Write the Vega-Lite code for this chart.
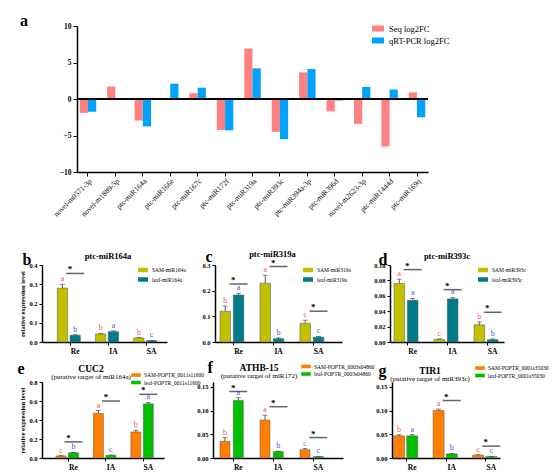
{
  "$schema": "https://vega.github.io/schema/vega-lite/v6.json",
  "padding": {"left": 17, "top": 13, "right": 0, "bottom": 0},
  "datasets": {
    "mirna": [
      {"mir": "novel-m0571-3p", "series": "Seq log2FC", "v": -1.9},
      {"mir": "novel-m0571-3p", "series": "qRT-PCR log2FC", "v": -1.75},
      {"mir": "novel-m1889-5p", "series": "Seq log2FC", "v": 1.7},
      {"mir": "novel-m1889-5p", "series": "qRT-PCR log2FC", "v": 0.05},
      {"mir": "ptc-miR164a", "series": "Seq log2FC", "v": -2.95},
      {"mir": "ptc-miR164a", "series": "qRT-PCR log2FC", "v": -3.75},
      {"mir": "ptc-miR166e", "series": "Seq log2FC", "v": 0.1},
      {"mir": "ptc-miR166e", "series": "qRT-PCR log2FC", "v": 2.1},
      {"mir": "ptc-miR167c", "series": "Seq log2FC", "v": 0.8},
      {"mir": "ptc-miR167c", "series": "qRT-PCR log2FC", "v": 1.55},
      {"mir": "ptc-miR172f", "series": "Seq log2FC", "v": -4.25},
      {"mir": "ptc-miR172f", "series": "qRT-PCR log2FC", "v": -4.3},
      {"mir": "ptc-miR319a", "series": "Seq log2FC", "v": 6.9},
      {"mir": "ptc-miR319a", "series": "qRT-PCR log2FC", "v": 4.2},
      {"mir": "ptc-miR393c", "series": "Seq log2FC", "v": -4.5},
      {"mir": "ptc-miR393c", "series": "qRT-PCR log2FC", "v": -5.5},
      {"mir": "ptc-miR394a-3p", "series": "Seq log2FC", "v": 3.65},
      {"mir": "ptc-miR394a-3p", "series": "qRT-PCR log2FC", "v": 4.1},
      {"mir": "ptc-miR396d", "series": "Seq log2FC", "v": -1.7},
      {"mir": "ptc-miR396d", "series": "qRT-PCR log2FC", "v": -0.2},
      {"mir": "novel-m2623-3p", "series": "Seq log2FC", "v": -3.4},
      {"mir": "novel-m2623-3p", "series": "qRT-PCR log2FC", "v": 1.65},
      {"mir": "ptc-miR1444d", "series": "Seq log2FC", "v": -6.5},
      {"mir": "ptc-miR1444d", "series": "qRT-PCR log2FC", "v": 1.3},
      {"mir": "ptc-miR169q", "series": "Seq log2FC", "v": 0.9},
      {"mir": "ptc-miR169q", "series": "qRT-PCR log2FC", "v": -2.5}
    ],
    "expr": [
      {"panel": "b", "slot": "Re-SAM", "role": "SAM", "grp": "SAM-miR164a", "v": 0.28, "up": 0.3, "letter": "a"},
      {"panel": "b", "slot": "Re-leaf", "role": "leaf", "grp": "leaf-miR164a", "v": 0.035, "up": 0.038, "letter": "b"},
      {"panel": "b", "slot": "IA-SAM", "role": "SAM", "grp": "SAM-miR164a", "v": 0.042, "up": 0.045, "letter": "b"},
      {"panel": "b", "slot": "IA-leaf", "role": "leaf", "grp": "leaf-miR164a", "v": 0.054, "up": 0.058, "letter": "a"},
      {"panel": "b", "slot": "SA-SAM", "role": "SAM", "grp": "SAM-miR164a", "v": 0.021, "up": 0.023, "letter": "b"},
      {"panel": "b", "slot": "SA-leaf", "role": "leaf", "grp": "leaf-miR164a", "v": 0.007, "up": 0.008, "letter": "c"},
      {"panel": "c", "slot": "Re-SAM", "role": "SAM", "grp": "SAM-miR319a", "v": 0.12, "up": 0.14, "letter": "b"},
      {"panel": "c", "slot": "Re-leaf", "role": "leaf", "grp": "leaf-miR319a", "v": 0.183, "up": 0.19, "letter": "a"},
      {"panel": "c", "slot": "IA-SAM", "role": "SAM", "grp": "SAM-miR319a", "v": 0.229, "up": 0.26, "letter": "a"},
      {"panel": "c", "slot": "IA-leaf", "role": "leaf", "grp": "leaf-miR319a", "v": 0.013, "up": 0.016, "letter": "b"},
      {"panel": "c", "slot": "SA-SAM", "role": "SAM", "grp": "SAM-miR319a", "v": 0.073, "up": 0.085, "letter": "c"},
      {"panel": "c", "slot": "SA-leaf", "role": "leaf", "grp": "leaf-miR319a", "v": 0.019, "up": 0.022, "letter": "c"},
      {"panel": "d", "slot": "Re-SAM", "role": "SAM", "grp": "SAM-miR393c", "v": 0.076, "up": 0.0815, "letter": "a"},
      {"panel": "d", "slot": "Re-leaf", "role": "leaf", "grp": "leaf-miR393c", "v": 0.054, "up": 0.0565, "letter": "a"},
      {"panel": "d", "slot": "IA-SAM", "role": "SAM", "grp": "SAM-miR393c", "v": 0.0034, "up": 0.004, "letter": "c"},
      {"panel": "d", "slot": "IA-leaf", "role": "leaf", "grp": "leaf-miR393c", "v": 0.056, "up": 0.058, "letter": "a"},
      {"panel": "d", "slot": "SA-SAM", "role": "SAM", "grp": "SAM-miR393c", "v": 0.0223, "up": 0.026, "letter": "b"},
      {"panel": "d", "slot": "SA-leaf", "role": "leaf", "grp": "leaf-miR393c", "v": 0.003, "up": 0.004, "letter": "b"},
      {"panel": "e", "slot": "Re-SAM", "role": "SAM", "grp": "SAM-POPTR_0011s11600", "v": 0.022, "up": 0.024, "letter": "c"},
      {"panel": "e", "slot": "Re-leaf", "role": "leaf", "grp": "leaf-POPTR_0011s11600", "v": 0.055, "up": 0.058, "letter": "b"},
      {"panel": "e", "slot": "IA-SAM", "role": "SAM", "grp": "SAM-POPTR_0011s11600", "v": 0.47, "up": 0.5, "letter": "a"},
      {"panel": "e", "slot": "IA-leaf", "role": "leaf", "grp": "leaf-POPTR_0011s11600", "v": 0.028, "up": 0.03, "letter": "c"},
      {"panel": "e", "slot": "SA-SAM", "role": "SAM", "grp": "SAM-POPTR_0011s11600", "v": 0.274, "up": 0.29, "letter": "b"},
      {"panel": "e", "slot": "SA-leaf", "role": "leaf", "grp": "leaf-POPTR_0011s11600", "v": 0.57, "up": 0.585, "letter": "a"},
      {"panel": "f", "slot": "Re-SAM", "role": "SAM", "grp": "SAM-POPTR_0003s04860", "v": 0.035, "up": 0.043, "letter": "b"},
      {"panel": "f", "slot": "Re-leaf", "role": "leaf", "grp": "leaf-POPTR_0003s04860", "v": 0.121, "up": 0.127, "letter": "a"},
      {"panel": "f", "slot": "IA-SAM", "role": "SAM", "grp": "SAM-POPTR_0003s04860", "v": 0.08, "up": 0.09, "letter": "a"},
      {"panel": "f", "slot": "IA-leaf", "role": "leaf", "grp": "leaf-POPTR_0003s04860", "v": 0.0136, "up": 0.0145, "letter": "b"},
      {"panel": "f", "slot": "SA-SAM", "role": "SAM", "grp": "SAM-POPTR_0003s04860", "v": 0.0175, "up": 0.02, "letter": "c"},
      {"panel": "f", "slot": "SA-leaf", "role": "leaf", "grp": "leaf-POPTR_0003s04860", "v": 0.003, "up": 0.0035, "letter": "c"},
      {"panel": "g", "slot": "Re-SAM", "role": "SAM", "grp": "SAM-POPTR_0001s35030", "v": 0.0467, "up": 0.049, "letter": "b"},
      {"panel": "g", "slot": "Re-leaf", "role": "leaf", "grp": "leaf-POPTR_0001s35030", "v": 0.0467, "up": 0.049, "letter": "a"},
      {"panel": "g", "slot": "IA-SAM", "role": "SAM", "grp": "SAM-POPTR_0001s35030", "v": 0.1, "up": 0.103, "letter": "a"},
      {"panel": "g", "slot": "IA-leaf", "role": "leaf", "grp": "leaf-POPTR_0001s35030", "v": 0.0087, "up": 0.0095, "letter": "b"},
      {"panel": "g", "slot": "SA-SAM", "role": "SAM", "grp": "SAM-POPTR_0001s35030", "v": 0.006, "up": 0.007, "letter": "c"},
      {"panel": "g", "slot": "SA-leaf", "role": "leaf", "grp": "leaf-POPTR_0001s35030", "v": 0.003, "up": 0.0035, "letter": "c"}
    ],
    "sig": [
      {"panel": "b", "slot": "Re-leaf", "y": 0.356},
      {"panel": "c", "slot": "Re-leaf", "y": 0.226},
      {"panel": "c", "slot": "IA-leaf", "y": 0.294},
      {"panel": "c", "slot": "SA-leaf", "y": 0.12},
      {"panel": "d", "slot": "Re-leaf", "y": 0.094},
      {"panel": "d", "slot": "IA-leaf", "y": 0.068},
      {"panel": "d", "slot": "SA-leaf", "y": 0.0386},
      {"panel": "e", "slot": "Re-leaf", "y": 0.17},
      {"panel": "e", "slot": "IA-leaf", "y": 0.6},
      {"panel": "e", "slot": "SA-leaf", "y": 0.67},
      {"panel": "f", "slot": "Re-leaf", "y": 0.14},
      {"panel": "f", "slot": "IA-leaf", "y": 0.108},
      {"panel": "f", "slot": "SA-leaf", "y": 0.043},
      {"panel": "g", "slot": "IA-leaf", "y": 0.121},
      {"panel": "g", "slot": "SA-leaf", "y": 0.025}
    ]
  },
  "config": {
    "font": "Liberation Serif",
    "view": {"stroke": null},
    "axis": {"domainColor": "#000", "domainWidth": 1.5, "tickColor": "#000", "tickWidth": 1, "tickSize": 3, "labelColor": "#000", "labelFont": "Liberation Serif", "labelFontWeight": "bold", "labelFontSize": 6.5, "labelOverlap": false, "labelBound": false, "labelFlush": false, "titleFont": "Liberation Serif", "titleFontSize": 6.5, "titleFontWeight": "bold", "titleColor": "#000", "grid": false, "labelPadding": 2, "titlePadding": 3},
    "legend": {"labelFont": "Liberation Serif", "labelColor": "#000", "symbolStrokeWidth": 0, "symbolOpacity": 1, "labelLimit": 300},
    "title": {"font": "Liberation Serif", "fontWeight": "bold", "color": "#000", "subtitleFont": "Liberation Serif", "subtitleColor": "#000", "subtitleFontWeight": "normal"}
  },
  "spacing": 30,
  "resolve": {"scale": {"color": "independent"}, "legend": {"color": "independent"}},
  "vconcat": [
    {
      "spacing": 0,
      "bounds": "flush",
      "resolve": {"scale": {"color": "independent"}, "legend": {"color": "independent"}},
      "hconcat": [
        {"width": 35, "height": 10, "data": {"values": []}, "mark": "point"},
        {
          "width": 351,
          "height": 146,
          "title": {"text": "a", "anchor": "start", "frame": "group", "fontSize": 16, "dx": -57, "offset": 0, "dy": 7},
          "data": {"name": "mirna"},
          "resolve": {"axis": {"y": "independent"}},
          "layer": [
            {
              "mark": {"type": "bar"},
              "encoding": {
                "x": {"field": "mir", "type": "nominal", "sort": null, "scale": {"type": "band", "paddingInner": 0.4, "paddingOuter": 0.1}, "axis": {"title": null, "labelAngle": -45, "labelFontWeight": "normal", "labelFontSize": 7.5, "tickSize": 4, "labelPadding": 1}},
                "xOffset": {"field": "series", "type": "nominal", "sort": ["Seq log2FC", "qRT-PCR log2FC"]},
                "y": {"field": "v", "type": "quantitative", "scale": {"domain": [-10, 10]}, "axis": {"orient": "left", "values": [-10, 0, 10], "title": null, "labelFontSize": 7.5, "tickSize": 4}},
                "color": {"field": "series", "type": "nominal", "scale": {"domain": ["Seq log2FC", "qRT-PCR log2FC"], "range": ["#ff8080", "#00a2ff"]}, "legend": {"orient": "none", "legendX": 295, "legendY": -3.5, "title": null, "symbolType": "M-1,-0.5H1V0.5H-1Z", "symbolSize": 144, "labelFontSize": 8.5, "rowPadding": 1, "labelOffset": 5}}
              }
            },
            {"mark": {"type": "rule", "color": "#000", "strokeWidth": 1.5}, "encoding": {"y": {"datum": 0, "axis": {"orient": "left", "values": [-5, 5], "title": null, "domain": false, "labelFontSize": 7.5, "tickSize": 4}}}}
          ]
        }
      ]
    },
    {
      "spacing": 4,
      "resolve": {"scale": {"color": "independent"}, "legend": {"color": "independent"}},
      "vconcat": [
        {
          "spacing": 48,
          "bounds": "flush",
          "resolve": {"scale": {"color": "independent"}, "legend": {"color": "independent"}},
          "hconcat": [
            {
              "title": {"text": "ptc-miR164a", "fontSize": 8.5, "offset": 0, "dy": 9.5, "dx": 3.5},
              "width": 125, "height": 77,
              "resolve": {"axis": {"x": "independent", "y": "independent"}},
              "encoding": {"x": {"field": "slot", "type": "nominal", "scale": {"domain": ["Re-SAM", "Re-leaf", "g1", "IA-SAM", "IA-leaf", "g2", "SA-SAM", "SA-leaf"], "paddingInner": 0.19, "paddingOuter": 1, "align": 0.6}, "axis": null}},
              "layer": [
                {"data": {"name": "expr"}, "transform": [{"filter": "datum.panel == 'b'"}], "mark": {"type": "bar", "stroke": "#555", "strokeWidth": 0.5},
                  "encoding": {"x": {"field": "slot", "type": "nominal", "axis": {"values": ["Re-leaf", "IA-leaf", "SA-leaf"], "bandPosition": 0, "labelExpr": "split(datum.label, '-')[0]", "title": null, "labelAngle": 0, "labelFontSize": 7.5}},
                    "y": {"field": "v", "type": "quantitative", "scale": {"domain": [0, 0.4]}, "axis": {"orient": "left", "values": [0, 0.4], "format": ".1f", "title": "relative expression level"}},
                    "color": {"field": "grp", "type": "nominal", "scale": {"domain": ["SAM-miR164a", "leaf-miR164a"], "range": ["#c0c000", "#007b8a"]}, "legend": {"orient": "none", "legendX": 96, "legendY": 0, "title": null, "symbolType": "M-1,-0.45H1V0.45H-1Z", "symbolSize": 100, "labelFontSize": 5.5, "rowPadding": 0.5, "labelOffset": 4}}}},
                {"data": {"name": "expr"}, "transform": [{"filter": "datum.panel == 'b'"}], "mark": {"type": "rule", "color": "#333", "strokeWidth": 0.8},
                  "encoding": {"y": {"field": "v", "type": "quantitative", "axis": {"orient": "left", "values": [0.1, 0.2], "format": ".1f", "title": null, "domain": false}}, "y2": {"field": "up"}}},
                {"data": {"name": "expr"}, "transform": [{"filter": "datum.panel == 'b'"}], "mark": {"type": "tick", "orient": "horizontal", "size": 5, "thickness": 0.8, "color": "#333"},
                  "encoding": {"y": {"field": "up", "type": "quantitative", "axis": {"orient": "left", "values": [0.3], "format": ".1f", "title": null, "domain": false}}}},
                {"data": {"name": "expr"}, "transform": [{"filter": "datum.panel == 'b'"}], "mark": {"type": "text", "baseline": "bottom", "dy": -1, "fontSize": 8},
                  "encoding": {"y": {"field": "up", "type": "quantitative", "axis": null}, "text": {"field": "letter"}, "color": {"condition": {"test": "datum.role == 'SAM'", "value": "#ff5050"}, "value": "#5050ff"}}},
                {"data": {"name": "sig"}, "transform": [{"filter": "datum.panel == 'b'"}], "mark": {"type": "tick", "orient": "horizontal", "size": 18, "thickness": 1.5, "color": "#222"},
                  "encoding": {"x": {"field": "slot", "type": "nominal", "bandPosition": 0, "axis": null}, "y": {"field": "y", "type": "quantitative", "axis": null}}},
                {"data": {"name": "sig"}, "transform": [{"filter": "datum.panel == 'b'"}], "mark": {"type": "text", "text": "*", "fontSize": 9, "fontWeight": "bold", "dy": -4},
                  "encoding": {"x": {"field": "slot", "type": "nominal", "bandPosition": 0, "axis": {"orient": "top", "title": "b", "labels": false, "ticks": false, "domain": false, "titleFontSize": 16, "titleX": -20, "titleY": -1, "titleAlign": "left", "titleBaseline": "alphabetic", "titleAngle": 0}},
                    "y": {"field": "y", "type": "quantitative", "axis": null}}}
              ]
            },
            {
              "title": {"text": "ptc-miR319a", "fontSize": 8.5, "offset": 0, "dy": 9.5, "dx": -6},
              "width": 127, "height": 77,
              "resolve": {"axis": {"x": "independent", "y": "independent"}},
              "encoding": {"x": {"field": "slot", "type": "nominal", "scale": {"domain": ["Re-SAM", "Re-leaf", "g1", "IA-SAM", "IA-leaf", "g2", "SA-SAM", "SA-leaf"], "paddingInner": 0.21, "paddingOuter": 0.87, "align": 0.215}, "axis": null}},
              "layer": [
                {"data": {"name": "expr"}, "transform": [{"filter": "datum.panel == 'c'"}], "mark": {"type": "bar", "stroke": "#555", "strokeWidth": 0.5},
                  "encoding": {"x": {"field": "slot", "type": "nominal", "axis": {"values": ["Re-leaf", "IA-leaf", "SA-leaf"], "bandPosition": 0, "labelExpr": "split(datum.label, '-')[0]", "title": null, "labelAngle": 0, "labelFontSize": 7.5}},
                    "y": {"field": "v", "type": "quantitative", "scale": {"domain": [0, 0.3]}, "axis": {"orient": "left", "values": [0, 0.3], "format": ".1f", "title": null}},
                    "color": {"field": "grp", "type": "nominal", "scale": {"domain": ["SAM-miR319a", "leaf-miR319a"], "range": ["#c0c000", "#007b8a"]}, "legend": {"orient": "none", "legendX": 88, "legendY": 0, "title": null, "symbolType": "M-1,-0.45H1V0.45H-1Z", "symbolSize": 100, "labelFontSize": 5.5, "rowPadding": 0.5, "labelOffset": 4}}}},
                {"data": {"name": "expr"}, "transform": [{"filter": "datum.panel == 'c'"}], "mark": {"type": "rule", "color": "#333", "strokeWidth": 0.8},
                  "encoding": {"y": {"field": "v", "type": "quantitative", "axis": {"orient": "left", "values": [0.1, 0.2], "format": ".1f", "title": null, "domain": false}}, "y2": {"field": "up"}}},
                {"data": {"name": "expr"}, "transform": [{"filter": "datum.panel == 'c'"}], "mark": {"type": "tick", "orient": "horizontal", "size": 5, "thickness": 0.8, "color": "#333"},
                  "encoding": {"y": {"field": "up", "type": "quantitative", "axis": null}}},
                {"data": {"name": "expr"}, "transform": [{"filter": "datum.panel == 'c'"}], "mark": {"type": "text", "baseline": "bottom", "dy": -1, "fontSize": 8},
                  "encoding": {"y": {"field": "up", "type": "quantitative", "axis": null}, "text": {"field": "letter"}, "color": {"condition": {"test": "datum.role == 'SAM'", "value": "#ff5050"}, "value": "#5050ff"}}},
                {"data": {"name": "sig"}, "transform": [{"filter": "datum.panel == 'c'"}], "mark": {"type": "tick", "orient": "horizontal", "size": 18, "thickness": 1.5, "color": "#222"},
                  "encoding": {"x": {"field": "slot", "type": "nominal", "bandPosition": 0, "axis": null}, "y": {"field": "y", "type": "quantitative", "axis": null}}},
                {"data": {"name": "sig"}, "transform": [{"filter": "datum.panel == 'c'"}], "mark": {"type": "text", "text": "*", "fontSize": 9, "fontWeight": "bold", "dy": -4},
                  "encoding": {"x": {"field": "slot", "type": "nominal", "bandPosition": 0, "axis": {"orient": "top", "title": "c", "labels": false, "ticks": false, "domain": false, "titleFontSize": 16, "titleX": -10, "titleY": -3.5, "titleAlign": "left", "titleBaseline": "alphabetic", "titleAngle": 0}},
                    "y": {"field": "y", "type": "quantitative", "axis": null}}}
              ]
            },
            {
              "title": {"text": "ptc-miR393c", "fontSize": 8.5, "offset": 0, "dy": 9.5},
              "width": 114, "height": 77,
              "resolve": {"axis": {"x": "independent", "y": "independent"}},
              "encoding": {"x": {"field": "slot", "type": "nominal", "scale": {"domain": ["Re-SAM", "Re-leaf", "g1", "IA-SAM", "IA-leaf", "g2", "SA-SAM", "SA-leaf"], "paddingInner": 0.2, "paddingOuter": 0.375, "align": 0.4}, "axis": null}},
              "layer": [
                {"data": {"name": "expr"}, "transform": [{"filter": "datum.panel == 'd'"}], "mark": {"type": "bar", "stroke": "#555", "strokeWidth": 0.5},
                  "encoding": {"x": {"field": "slot", "type": "nominal", "axis": {"values": ["Re-leaf", "IA-leaf", "SA-leaf"], "bandPosition": 0, "labelExpr": "split(datum.label, '-')[0]", "title": null, "labelAngle": 0, "labelFontSize": 7.5}},
                    "y": {"field": "v", "type": "quantitative", "scale": {"domain": [0, 0.1]}, "axis": {"orient": "left", "values": [0, 0.1], "format": ".2f", "title": null}},
                    "color": {"field": "grp", "type": "nominal", "scale": {"domain": ["SAM-miR393c", "leaf-miR393c"], "range": ["#c0c000", "#007b8a"]}, "legend": {"orient": "none", "legendX": 88, "legendY": 0, "title": null, "symbolType": "M-1,-0.45H1V0.45H-1Z", "symbolSize": 100, "labelFontSize": 5.5, "rowPadding": 0.5, "labelOffset": 4}}}},
                {"data": {"name": "expr"}, "transform": [{"filter": "datum.panel == 'd'"}], "mark": {"type": "rule", "color": "#333", "strokeWidth": 0.8},
                  "encoding": {"y": {"field": "v", "type": "quantitative", "axis": {"orient": "left", "values": [0.02, 0.04], "format": ".2f", "title": null, "domain": false}}, "y2": {"field": "up"}}},
                {"data": {"name": "expr"}, "transform": [{"filter": "datum.panel == 'd'"}], "mark": {"type": "tick", "orient": "horizontal", "size": 5, "thickness": 0.8, "color": "#333"},
                  "encoding": {"y": {"field": "up", "type": "quantitative", "axis": {"orient": "left", "values": [0.06, 0.08], "format": ".2f", "title": null, "domain": false}}}},
                {"data": {"name": "expr"}, "transform": [{"filter": "datum.panel == 'd'"}], "mark": {"type": "text", "baseline": "bottom", "dy": -1, "fontSize": 8},
                  "encoding": {"y": {"field": "up", "type": "quantitative", "axis": null}, "text": {"field": "letter"}, "color": {"condition": {"test": "datum.role == 'SAM'", "value": "#ff5050"}, "value": "#5050ff"}}},
                {"data": {"name": "sig"}, "transform": [{"filter": "datum.panel == 'd'"}], "mark": {"type": "tick", "orient": "horizontal", "size": 18, "thickness": 1.5, "color": "#222"},
                  "encoding": {"x": {"field": "slot", "type": "nominal", "bandPosition": 0, "axis": null}, "y": {"field": "y", "type": "quantitative", "axis": null}}},
                {"data": {"name": "sig"}, "transform": [{"filter": "datum.panel == 'd'"}], "mark": {"type": "text", "text": "*", "fontSize": 9, "fontWeight": "bold", "dy": -4},
                  "encoding": {"x": {"field": "slot", "type": "nominal", "bandPosition": 0, "axis": {"orient": "top", "title": "d", "labels": false, "ticks": false, "domain": false, "titleFontSize": 16, "titleX": -12, "titleY": -1, "titleAlign": "left", "titleBaseline": "alphabetic", "titleAngle": 0}},
                    "y": {"field": "y", "type": "quantitative", "axis": null}}}
              ]
            }
          ]
        },
        {
          "spacing": 49,
          "bounds": "flush",
          "resolve": {"scale": {"color": "independent"}, "legend": {"color": "independent"}},
          "hconcat": [
            {
              "title": {"text": "CUC2", "subtitle": "(putative target of miR164a)", "fontSize": 9.5, "subtitleFontSize": 7, "subtitlePadding": 0, "offset": 0, "dy": 20, "dx": -12},
              "width": 122, "height": 76,
              "resolve": {"axis": {"x": "independent", "y": "independent"}},
              "encoding": {"x": {"field": "slot", "type": "nominal", "scale": {"domain": ["Re-SAM", "Re-leaf", "g1", "IA-SAM", "IA-leaf", "g2", "SA-SAM", "SA-leaf"], "paddingInner": 0.2, "paddingOuter": 0.99, "align": 0.567}, "axis": null}},
              "layer": [
                {"data": {"name": "expr"}, "transform": [{"filter": "datum.panel == 'e'"}], "mark": {"type": "bar", "stroke": "#555", "strokeWidth": 0.5},
                  "encoding": {"x": {"field": "slot", "type": "nominal", "axis": {"values": ["Re-leaf", "IA-leaf", "SA-leaf"], "bandPosition": 0, "labelExpr": "split(datum.label, '-')[0]", "title": null, "labelAngle": 0, "labelFontSize": 7.5}},
                    "y": {"field": "v", "type": "quantitative", "scale": {"domain": [0, 0.8]}, "axis": {"orient": "left", "values": [0, 0.8], "format": ".1f", "title": "relative expression level"}},
                    "color": {"field": "grp", "type": "nominal", "scale": {"domain": ["SAM-POPTR_0011s11600", "leaf-POPTR_0011s11600"], "range": ["#ff8000", "#00c000"]}, "legend": {"orient": "none", "legendX": 91, "legendY": -10, "title": null, "symbolType": "M-1.6,-0.6H1.6V0.6H-1.6Z", "symbolSize": 36, "labelFontSize": 5.5, "rowPadding": 0.5, "labelOffset": 5}}}},
                {"data": {"name": "expr"}, "transform": [{"filter": "datum.panel == 'e'"}], "mark": {"type": "rule", "color": "#333", "strokeWidth": 0.8},
                  "encoding": {"y": {"field": "v", "type": "quantitative", "axis": {"orient": "left", "values": [0.2, 0.4], "format": ".1f", "title": null, "domain": false}}, "y2": {"field": "up"}}},
                {"data": {"name": "expr"}, "transform": [{"filter": "datum.panel == 'e'"}], "mark": {"type": "tick", "orient": "horizontal", "size": 5, "thickness": 0.8, "color": "#333"},
                  "encoding": {"y": {"field": "up", "type": "quantitative", "axis": {"orient": "left", "values": [0.6], "format": ".1f", "title": null, "domain": false}}}},
                {"data": {"name": "expr"}, "transform": [{"filter": "datum.panel == 'e'"}], "mark": {"type": "text", "baseline": "bottom", "dy": -1, "fontSize": 8},
                  "encoding": {"y": {"field": "up", "type": "quantitative", "axis": null}, "text": {"field": "letter"}, "color": {"condition": {"test": "datum.role == 'SAM'", "value": "#ff5050"}, "value": "#5050ff"}}},
                {"data": {"name": "sig"}, "transform": [{"filter": "datum.panel == 'e'"}], "mark": {"type": "tick", "orient": "horizontal", "size": 18, "thickness": 1.5, "color": "#222"},
                  "encoding": {"x": {"field": "slot", "type": "nominal", "bandPosition": 0, "axis": null}, "y": {"field": "y", "type": "quantitative", "axis": null}}},
                {"data": {"name": "sig"}, "transform": [{"filter": "datum.panel == 'e'"}], "mark": {"type": "text", "text": "*", "fontSize": 9, "fontWeight": "bold", "dy": -4},
                  "encoding": {"x": {"field": "slot", "type": "nominal", "bandPosition": 0, "axis": {"orient": "top", "title": "e", "labels": false, "ticks": false, "domain": false, "titleFontSize": 16, "titleX": -25, "titleY": -9, "titleAlign": "left", "titleBaseline": "alphabetic", "titleAngle": 0}},
                    "y": {"field": "y", "type": "quantitative", "axis": null}}}
              ]
            },
            {
              "title": {"text": "ATHB-15", "subtitle": "(putative target of miR172)", "fontSize": 9.5, "subtitleFontSize": 7, "subtitlePadding": 0, "offset": 0, "dy": 20, "dx": -19},
              "width": 130, "height": 76,
              "resolve": {"axis": {"x": "independent", "y": "independent"}},
              "encoding": {"x": {"field": "slot", "type": "nominal", "scale": {"domain": ["Re-SAM", "Re-leaf", "g1", "IA-SAM", "IA-leaf", "g2", "SA-SAM", "SA-leaf"], "paddingInner": 0.25, "paddingOuter": 1, "align": 0.262}, "axis": null}},
              "layer": [
                {"data": {"name": "expr"}, "transform": [{"filter": "datum.panel == 'f'"}], "mark": {"type": "bar", "stroke": "#555", "strokeWidth": 0.5},
                  "encoding": {"x": {"field": "slot", "type": "nominal", "axis": {"values": ["Re-leaf", "IA-leaf", "SA-leaf"], "bandPosition": 0, "labelExpr": "split(datum.label, '-')[0]", "title": null, "labelAngle": 0, "labelFontSize": 7.5}},
                    "y": {"field": "v", "type": "quantitative", "scale": {"domain": [0, 0.15]}, "axis": {"orient": "left", "values": [0, 0.15], "format": ".2f", "title": null}},
                    "color": {"field": "grp", "type": "nominal", "scale": {"domain": ["SAM-POPTR_0003s04860", "leaf-POPTR_0003s04860"], "range": ["#ff8000", "#00c000"]}, "legend": {"orient": "none", "legendX": 90, "legendY": -18.5, "title": null, "symbolType": "M-1.6,-0.6H1.6V0.6H-1.6Z", "symbolSize": 36, "labelFontSize": 5.5, "rowPadding": 0.5, "labelOffset": 5}}}},
                {"data": {"name": "expr"}, "transform": [{"filter": "datum.panel == 'f'"}], "mark": {"type": "rule", "color": "#333", "strokeWidth": 0.8},
                  "encoding": {"y": {"field": "v", "type": "quantitative", "axis": {"orient": "left", "values": [0.05, 0.1], "format": ".2f", "title": null, "domain": false}}, "y2": {"field": "up"}}},
                {"data": {"name": "expr"}, "transform": [{"filter": "datum.panel == 'f'"}], "mark": {"type": "tick", "orient": "horizontal", "size": 5, "thickness": 0.8, "color": "#333"},
                  "encoding": {"y": {"field": "up", "type": "quantitative", "axis": null}}},
                {"data": {"name": "expr"}, "transform": [{"filter": "datum.panel == 'f'"}], "mark": {"type": "text", "baseline": "bottom", "dy": -1, "fontSize": 8},
                  "encoding": {"y": {"field": "up", "type": "quantitative", "axis": null}, "text": {"field": "letter"}, "color": {"condition": {"test": "datum.role == 'SAM'", "value": "#ff5050"}, "value": "#5050ff"}}},
                {"data": {"name": "sig"}, "transform": [{"filter": "datum.panel == 'f'"}], "mark": {"type": "tick", "orient": "horizontal", "size": 18, "thickness": 1.5, "color": "#222"},
                  "encoding": {"x": {"field": "slot", "type": "nominal", "bandPosition": 0, "axis": null}, "y": {"field": "y", "type": "quantitative", "axis": null}}},
                {"data": {"name": "sig"}, "transform": [{"filter": "datum.panel == 'f'"}], "mark": {"type": "text", "text": "*", "fontSize": 9, "fontWeight": "bold", "dy": -4},
                  "encoding": {"x": {"field": "slot", "type": "nominal", "bandPosition": 0, "axis": {"orient": "top", "title": "f", "labels": false, "ticks": false, "domain": false, "titleFontSize": 16, "titleX": -6, "titleY": -10, "titleAlign": "left", "titleBaseline": "alphabetic", "titleAngle": 0}},
                    "y": {"field": "y", "type": "quantitative", "axis": null}}}
              ]
            },
            {
              "title": {"text": "TIR1", "subtitle": "(putative target of miR393c)", "fontSize": 9.5, "subtitleFontSize": 7, "subtitlePadding": 0, "offset": 0, "dy": 20, "dx": -16},
              "width": 108, "height": 76,
              "resolve": {"axis": {"x": "independent", "y": "independent"}},
              "encoding": {"x": {"field": "slot", "type": "nominal", "scale": {"domain": ["Re-SAM", "Re-leaf", "g1", "IA-SAM", "IA-leaf", "g2", "SA-SAM", "SA-leaf"], "paddingInner": 0.165, "paddingOuter": 0.18, "align": 0.33}, "axis": null}},
              "layer": [
                {"data": {"name": "expr"}, "transform": [{"filter": "datum.panel == 'g'"}], "mark": {"type": "bar", "stroke": "#555", "strokeWidth": 0.5},
                  "encoding": {"x": {"field": "slot", "type": "nominal", "axis": {"values": ["Re-leaf", "IA-leaf", "SA-leaf"], "bandPosition": 0, "labelExpr": "split(datum.label, '-')[0]", "title": null, "labelAngle": 0, "labelFontSize": 7.5}},
                    "y": {"field": "v", "type": "quantitative", "scale": {"domain": [0, 0.15]}, "axis": {"orient": "left", "values": [0, 0.15], "format": ".2f", "title": null}},
                    "color": {"field": "grp", "type": "nominal", "scale": {"domain": ["SAM-POPTR_0001s35030", "leaf-POPTR_0001s35030"], "range": ["#ff8000", "#00c000"]}, "legend": {"orient": "none", "legendX": 85, "legendY": -17, "title": null, "symbolType": "M-1.6,-0.6H1.6V0.6H-1.6Z", "symbolSize": 36, "labelFontSize": 5.5, "rowPadding": 0.5, "labelOffset": 5}}}},
                {"data": {"name": "expr"}, "transform": [{"filter": "datum.panel == 'g'"}], "mark": {"type": "rule", "color": "#333", "strokeWidth": 0.8},
                  "encoding": {"y": {"field": "v", "type": "quantitative", "axis": {"orient": "left", "values": [0.05, 0.1], "format": ".2f", "title": null, "domain": false}}, "y2": {"field": "up"}}},
                {"data": {"name": "expr"}, "transform": [{"filter": "datum.panel == 'g'"}], "mark": {"type": "tick", "orient": "horizontal", "size": 5, "thickness": 0.8, "color": "#333"},
                  "encoding": {"y": {"field": "up", "type": "quantitative", "axis": null}}},
                {"data": {"name": "expr"}, "transform": [{"filter": "datum.panel == 'g'"}], "mark": {"type": "text", "baseline": "bottom", "dy": -1, "fontSize": 8},
                  "encoding": {"y": {"field": "up", "type": "quantitative", "axis": null}, "text": {"field": "letter"}, "color": {"condition": {"test": "datum.role == 'SAM'", "value": "#ff5050"}, "value": "#5050ff"}}},
                {"data": {"name": "sig"}, "transform": [{"filter": "datum.panel == 'g'"}], "mark": {"type": "tick", "orient": "horizontal", "size": 18, "thickness": 1.5, "color": "#222"},
                  "encoding": {"x": {"field": "slot", "type": "nominal", "bandPosition": 0, "axis": null}, "y": {"field": "y", "type": "quantitative", "axis": null}}},
                {"data": {"name": "sig"}, "transform": [{"filter": "datum.panel == 'g'"}], "mark": {"type": "text", "text": "*", "fontSize": 9, "fontWeight": "bold", "dy": -4},
                  "encoding": {"x": {"field": "slot", "type": "nominal", "bandPosition": 0, "axis": {"orient": "top", "title": "g", "labels": false, "ticks": false, "domain": false, "titleFontSize": 16, "titleX": -14, "titleY": -7, "titleAlign": "left", "titleBaseline": "alphabetic", "titleAngle": 0}},
                    "y": {"field": "y", "type": "quantitative", "axis": null}}}
              ]
            }
          ]
        }
      ]
    }
  ]
}
